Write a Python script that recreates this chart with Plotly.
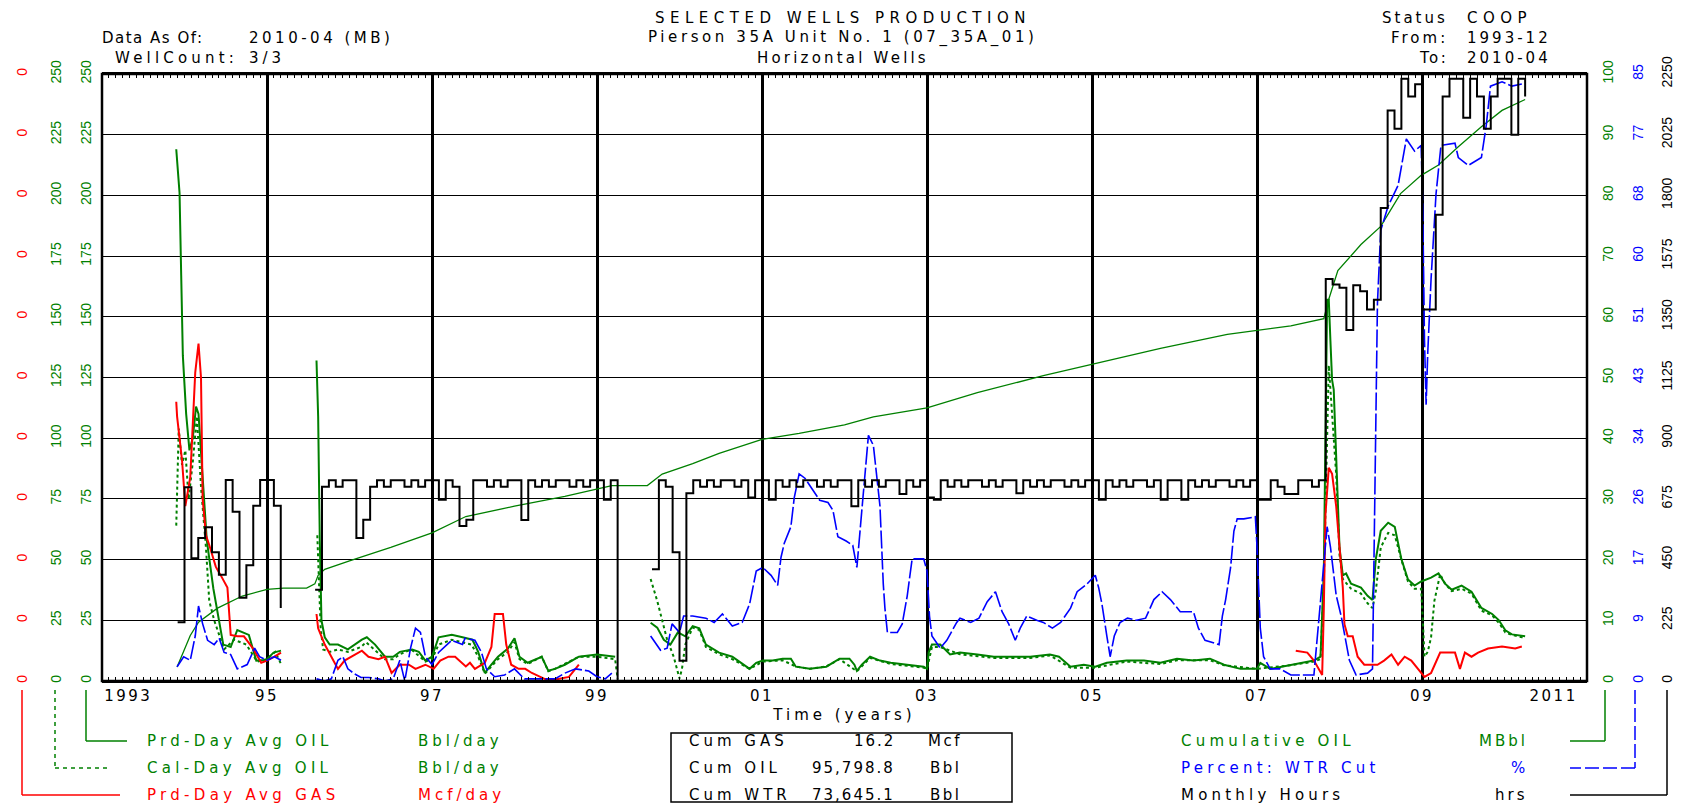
import plotly.graph_objects as go

# the page adds an 8px body margin, so the figure is drawn 8px in from the corner
OFF = 8
W, H = 1684 - OFF, 804 - OFF
L, R, T, B = 102, 1587, 74, 681   # plot frame in page pixels


def px(x):
    return (x - OFF) / W


def py(y):
    return 1 - (y - OFF) / H


def months(year, month, n):
    return [year + (month - 1 + i) / 12 for i in range(n)]


GREEN, RED, BLUE = "#008000", "#ff0000", "#0000ff"

# ---------------- data ----------------
# Prd-Day Avg OIL, Bbl/day
prd_oil_t = [1993.90, 1993.94, 1993.96, 1993.98, 1994.02, 1994.06, 1994.10, 1994.14, 1994.17, 1994.21,
             1994.27, 1994.35, 1994.47, 1994.56, 1994.64, 1994.78, 1994.87, 1994.99, 1995.08, 1995.17, None,
             1995.60, 1995.62, 1995.64, 1995.66, 1995.70, 1995.76, 1995.86, 1995.98, 1996.15, 1996.21,
             1996.31, 1996.43, 1996.53, 1996.61, 1996.76, 1996.84, 1996.92, 1997.00, 1997.08, 1997.24,
             1997.37, 1997.49, 1997.56, 1997.64, 1997.72, 1997.80, 1997.92, 1998.00, 1998.06, 1998.16,
             1998.33, 1998.41, 1998.49, 1998.61, 1998.78, 1999.00, 1999.22, None,
             1999.65, 1999.73, 1999.81, 1999.89, 1999.98, 2000.07, 2000.16, 2000.24, 2000.32, 2000.48,
             2000.64, 2000.85, 2000.93, 2001.01, 2001.13, 2001.25, 2001.35, 2001.41, 2001.58, 2001.78,
             2001.94, 2002.06, 2002.12, 2002.15, 2002.21, 2002.31, 2002.43, 2002.56, 2002.76, 2002.96,
             2003.00, 2003.02, 2003.06, 2003.16, 2003.28, 2003.40, 2003.61, 2003.81, 2004.01, 2004.25,
             2004.49, 2004.60, 2004.74, 2004.90, 2005.04, 2005.18, 2005.42, 2005.63, 2005.83, 2006.03,
             2006.23, 2006.43, 2006.60, 2006.80, 2007.00, 2007.04, 2007.16, 2007.41, 2007.69, 2007.77,
             2007.81, 2007.85, 2007.87, 2007.89, 2007.91, 2007.93, 2007.96, 2007.98, 2008.00, 2008.04,
             2008.08, 2008.14, 2008.26, 2008.34, 2008.40, 2008.44, 2008.50, 2008.59, 2008.67, 2008.75,
             2008.83, 2008.91, 2008.99, 2009.11, 2009.20, 2009.28, 2009.36, 2009.48, 2009.60, 2009.72,
             2009.85, 2009.93, 2010.01, 2010.09, 2010.21, 2010.25]
prd_oil_v = [219, 201, 167, 134, 110, 95, 100, 113, 110, 88,
             58, 38, 15, 14, 21, 19, 8.4, 8.7, 11.7, 12.5, None,
             132, 109, 58, 25, 18, 15, 15, 13, 17, 18,
             15, 10, 10, 12, 13, 12, 8.4, 10, 18, 19,
             18, 17, 12, 3.3, 6.7, 10, 13.4, 17.6, 10, 7.5,
             10, 4.2, 5, 6.7, 10, 10.9, 10, None,
             24, 22, 17, 15, 20, 18.4, 22.6, 21.7, 15, 11.7,
             10, 5, 7.5, 8.4, 8.4, 9.2, 9.2, 5.9, 5, 5.9,
             9.2, 9.2, 6.7, 4.2, 6.7, 10, 8.4, 7.5, 6.7, 5.9,
             5, 11.7, 15, 15, 10.9, 11.7, 10.9, 10, 10, 10,
             10.9, 10, 5.9, 6.7, 5.9, 7.5, 8.4, 8.4, 7.5, 9.2,
             8.4, 9.2, 6.7, 5, 5, 7.5, 5, 6.7, 8.4, 10,
             45, 157, 157, 140, 124, 120, 92, 72, 55, 43.5,
             44.3, 40.1, 38.5, 35.1, 33.4, 50.2, 61.9, 65.2, 63.5, 50.2,
             41.8, 39.3, 41, 42.6, 44.3, 40.1, 37.6, 39.3, 36.8, 30.1,
             27.6, 25.1, 20.9, 19.2, 18.4, 18.4]

# Cal-Day Avg OIL, Bbl/day
cal_oil_t = [1993.90, 1993.93, 1993.97, 1994.01, 1994.05, 1994.10, 1994.15, 1994.20, 1994.26, 1994.30,
             1994.36, 1994.48, 1994.60, 1994.75, 1994.88, 1995.00, 1995.10, 1995.17, None,
             1995.61, 1995.63, 1995.65, 1995.68, 1995.76, 1995.86, 1995.98, 1996.14, 1996.20, 1996.30,
             1996.43, 1996.53, 1996.61, 1996.75, 1996.92, 1997.00, 1997.08, 1997.24, 1997.36, 1997.48,
             1997.56, 1997.64, 1997.72, 1997.80, 1997.92, 1998.00, 1998.06, 1998.16, 1998.33, 1998.41,
             1998.49, 1998.61, 1998.78, 1999.00, 1999.22, 1999.25, None,
             1999.65, 1999.73, 1999.79, 1999.85, 1999.93, 2000.00, 2000.03, 2000.07, 2000.16, 2000.24,
             2000.32, 2000.48, 2000.64, 2000.85, 2001.01, 2001.25, 2001.41, 2001.58, 2001.78, 2001.94,
             2002.15, 2002.31, 2002.56, 2002.96, 2003.00, 2003.06, 2003.16, 2003.40, 2003.81, 2004.25,
             2004.49, 2004.74, 2005.04, 2005.42, 2005.83, 2006.03, 2006.43, 2006.60, 2007.00, 2007.41,
             2007.69, 2007.77, 2007.81, 2007.85, 2007.87, 2007.91, 2007.96, 2008.00, 2008.04, 2008.14,
             2008.26, 2008.34, 2008.40, 2008.44, 2008.50, 2008.59, 2008.67, 2008.75, 2008.83, 2008.91,
             2008.99, 2009.01, 2009.03, 2009.07, 2009.11, 2009.15, 2009.22, 2009.28, 2009.36, 2009.48,
             2009.60, 2009.72, 2009.85, 2009.93, 2010.01, 2010.09, 2010.21, 2010.25]
cal_oil_v = [64, 104, 89, 95, 75, 90, 109, 80, 55, 33,
             25, 13, 17, 15, 8, 9, 12, 7, None,
             60, 42, 22, 13, 12, 13, 12, 14, 16, 13,
             9, 9, 11, 13, 8, 9, 15, 17, 16, 15,
             10, 3, 6, 9, 12, 16, 9, 7, 10, 4,
             5, 7, 10, 10, 9, 1, None,
             42, 33, 25, 17, 10, 1, 5, 15, 22, 21,
             14, 11, 9, 5, 8, 8.5, 6, 5, 6, 9,
             4, 9.5, 7, 5.5, 5, 14, 14, 11, 9.5, 9.5,
             10.5, 5.5, 5.5, 8, 7, 8.5, 8.5, 6.5, 5, 6.5,
             8, 9, 40, 100, 130, 110, 85, 52, 42, 38,
             36, 32, 30, 37, 55, 61, 60, 50, 41, 38,
             38, 25, 10, 12, 18, 33, 44, 40, 37, 38,
             36, 29, 27, 24, 20, 19, 18, 18]

# Prd-Day Avg GAS, Mcf/day
gas_t = [1993.90, 1993.91, 1993.97, 1994.01, 1994.07, 1994.11, 1994.13, 1994.17, 1994.20, 1994.22,
         1994.26, 1994.30, 1994.38, 1994.44, 1994.52, 1994.56, 1994.64, 1994.72, 1994.83, 1994.93,
         1995.00, 1995.09, 1995.17, None,
         1995.60, 1995.62, 1995.70, 1995.78, 1995.86, 1995.94, 1996.02, 1996.15, 1996.23, 1996.35,
         1996.43, 1996.51, 1996.61, 1996.72, 1996.80, 1996.92, 1997.02, 1997.10, 1997.20, 1997.28,
         1997.41, 1997.46, 1997.52, 1997.64, 1997.72, 1997.76, 1997.86, 1997.90, 1997.96, 1998.05,
         1998.13, 1998.21, 1998.37, 1998.53, 1998.66, 1998.78, None,
         2007.47, 2007.61, 2007.69, 2007.79, 2007.81, 2007.83, 2007.87, 2007.91, 2007.96, 2008.00,
         2008.04, 2008.06, 2008.10, 2008.16, 2008.22, 2008.30, 2008.46, 2008.54, 2008.63, 2008.71,
         2008.79, 2008.87, 2008.95, 2009.03, 2009.11, 2009.22, 2009.32, 2009.40, 2009.46, 2009.52,
         2009.60, 2009.68, 2009.80, 2009.97, 2010.13, 2010.21]
gas_v = [0.115, 0.109, 0.091, 0.072, 0.084, 0.109, 0.127, 0.139, 0.125, 0.075,
         0.060, 0.056, 0.047, 0.0435, 0.0385, 0.019, 0.0184, 0.0184, 0.0134, 0.0075,
         0.0084, 0.010, 0.0117, None,
         0.0276, 0.0217, 0.015, 0.010, 0.005, 0.0084, 0.010, 0.0125, 0.010, 0.009,
         0.010, 0.0033, 0.0067, 0.0067, 0.005, 0.0067, 0.005, 0.0084, 0.010, 0.010,
         0.006, 0.0075, 0.005, 0.0075, 0.014, 0.0276, 0.0276, 0.015, 0.0067, 0.005,
         0.005, 0.0033, 0.0008, 0.0008, 0.0017, 0.0067, None,
         0.0125, 0.0117, 0.0084, 0.0025, 0.030, 0.0686, 0.0878, 0.0853, 0.0719, 0.0535,
         0.0385, 0.0234, 0.0184, 0.0184, 0.010, 0.0067, 0.0067, 0.0084, 0.0109, 0.0067,
         0.010, 0.0084, 0.005, 0.0017, 0.0033, 0.0117, 0.0117, 0.0117, 0.005, 0.0117,
         0.010, 0.0117, 0.0134, 0.0142, 0.0134, 0.0142]

# Cumulative OIL, MBbl
cum_oil_t = [1993.91, 1993.99, 1994.07, 1994.17, 1994.40, 1994.70, 1995.00, 1995.20, 1995.48, 1995.58,
             1995.62, 1995.70, 1996.00, 1996.50, 1997.00, 1997.41, 1998.00, 1998.61, 1999.18, 1999.61,
             1999.79, 2000.16, 2000.48, 2001.00, 2001.45, 2002.00, 2002.35, 2003.00, 2003.61, 2004.41,
             2005.00, 2005.83, 2006.64, 2007.00, 2007.41, 2007.81, 2007.87, 2007.98, 2008.26, 2008.50,
             2008.74, 2008.99, 2009.20, 2009.44, 2009.72, 2009.97, 2010.25]
cum_oil_v = [2.3, 5.0, 7.5, 9.7, 12.0, 14.0, 15.1, 15.3, 15.3, 16.0,
             17.4, 18.4, 19.8, 22.0, 24.4, 27.1, 28.8, 30.4, 32.2, 32.2,
             34.1, 35.8, 37.5, 39.8, 40.8, 42.2, 43.5, 45.0, 47.5, 50.3,
             52.2, 54.8, 57.1, 57.7, 58.5, 59.7, 62.9, 67.6, 71.9, 74.9,
             80.3, 83.3, 85.0, 88.0, 91.3, 94.0, 95.8]

# Percent WTR Cut, %
wtr_t = [1993.91, 1993.99, 1994.07, 1994.13, 1994.17, 1994.22, 1994.28, 1994.36, 1994.42, 1994.48,
         1994.56, 1994.64, 1994.76, 1994.85, 1994.91, 1995.00, 1995.09, 1995.17, None,
         1995.60, 1995.70, 1995.78, 1995.86, 1995.92, 1995.98, 1996.06, 1996.14, 1996.23, 1996.35,
         1996.43, 1996.53, 1996.61, 1996.67, 1996.74, 1996.80, 1996.86, 1996.92, 1997.00, 1997.08,
         1997.24, 1997.37, 1997.40, 1997.52, 1997.60, 1997.66, 1997.76, 1997.88, 1998.00, 1998.12,
         1998.33, 1998.49, 1998.61, 1998.74, 1998.90, 1999.00, 1999.10, 1999.18, None,
         1999.65, 1999.77, 1999.85, 1999.91, 2000.00, 2000.05, 2000.16, 2000.32, 2000.42, 2000.52,
         2000.64, 2000.76, 2000.85, 2000.93, 2001.01, 2001.11, 2001.19, 2001.23, 2001.27, 2001.35,
         2001.39, 2001.45, 2001.52, 2001.62, 2001.70, 2001.80, 2001.86, 2001.92, 2002.02, 2002.10,
         2002.15, 2002.21, 2002.25, 2002.29, 2002.35, 2002.39, 2002.43, 2002.47, 2002.49, 2002.52,
         2002.64, 2002.70, 2002.76, 2002.82, 2002.96, 2003.00, 2003.03, 2003.06, 2003.16, 2003.24,
         2003.36, 2003.40, 2003.53, 2003.63, 2003.73, 2003.83, 2003.91, 2003.99, 2004.07, 2004.13,
         2004.21, 2004.33, 2004.41, 2004.52, 2004.62, 2004.74, 2004.82, 2004.94, 2005.04, 2005.08,
         2005.12, 2005.18, 2005.22, 2005.27, 2005.34, 2005.43, 2005.54, 2005.65, 2005.75, 2005.85,
         2005.95, 2006.07, 2006.23, 2006.29, 2006.37, 2006.54, 2006.58, 2006.62, 2006.68, 2006.72,
         2006.76, 2006.84, 2006.98, 2007.00, 2007.02, 2007.04, 2007.08, 2007.16, 2007.28, 2007.41,
         2007.69, 2007.85, 2007.89, 2007.93, 2007.96, 2008.02, 2008.06, 2008.12, 2008.20, 2008.34,
         2008.40, 2008.42, 2008.44, 2008.46, 2008.50, 2008.59, 2008.71, 2008.77, 2008.81, 2008.91,
         2008.99, 2009.01, 2009.03, 2009.05, 2009.07, 2009.11, 2009.13, 2009.17, 2009.23, 2009.40,
         2009.44, 2009.56, 2009.72, 2009.78, 2009.83, 2009.97, 2010.09, 2010.21]
wtr_v = [2.0, 3.4, 2.9, 6.3, 10.5, 8.0, 5.7, 5.1, 6.0, 4.0,
         3.7, 1.7, 2.3, 4.6, 3.4, 2.9, 3.4, 2.9, None,
         0.3, 0.0, 0.3, 2.9, 3.4, 1.7, 1.0, 0.5, 0.5, 0.3,
         0.0, 0.3, 2.9, 0.0, 4.6, 7.4, 6.8, 3.4, 2.3, 4.0,
         5.7, 5.1, 6.0, 5.7, 4.0, 1.7, 0.6, 0.85, 1.7, 0.3,
         0.3, 0.3, 1.1, 1.7, 1.4, 0.6, 0.3, 1.1, None,
         6.3, 4.3, 4.6, 8.0, 6.8, 9.1, 9.1, 8.8, 8.2, 9.4,
         7.7, 8.2, 10.8, 15.4, 15.9, 14.8, 13.4, 17.3, 19.3, 21.6,
         25.6, 29.0, 28.4, 26.7, 25.3, 25.0, 23.9, 20.2, 19.6, 19.0,
         15.9, 23.9, 29.6, 34.4, 33.0, 29.0, 24.5, 13.6, 10.2, 6.8,
         6.8, 8.0, 11.9, 17.1, 17.1, 15.4, 9.1, 6.3, 4.6, 5.7,
         8.2, 8.8, 8.2, 8.8, 11.1, 12.5, 9.7, 8.0, 5.7, 7.4,
         9.1, 8.5, 8.2, 7.4, 8.2, 10.2, 12.5, 13.6, 14.8, 13.1,
         10.8, 6.3, 3.4, 6.3, 8.2, 8.8, 8.5, 8.8, 11.4, 12.5,
         11.4, 9.7, 9.7, 7.4, 5.7, 5.1, 9.1, 11.4, 15.9, 21.0,
         22.7, 22.7, 23.0, 18.8, 13.1, 7.4, 3.4, 1.7, 1.7, 0.85,
         0.85, 21.6, 18.8, 14.5, 12.0, 9.1, 6.8, 2.9, 0.85, 1.1,
         1.7, 18.8, 40.4, 52.9, 63.1, 66.5, 69.4, 73.3, 75.9, 74.2,
         75.0, 65.4, 47.8, 38.7, 46.0, 56.3, 60.3, 68.2, 75.0, 75.3,
         73.3, 72.2, 73.3, 77.9, 83.3, 83.9, 83.3, 83.6]

# Monthly Hours, hrs (one value per month)
hrs_a = [218, 718, 455, 530, 570, 477, 394, 745, 627, 309, 429, 650, 745, 745, 650, 271]   # 1993-12 ..
hrs_b = [338, 720, 744, 720, 744,                                                          # 1995-08 ..
         744, 530, 598, 720, 744, 720, 744, 744, 720, 744, 720, 744,
         744, 672, 744, 720, 575, 598, 744, 744, 720, 744, 720, 744,
         744, 597, 744, 720, 744, 720, 744, 744, 720, 744, 720, 744,
         744, 672, 744, 0]
hrs_c = [414, 744, 720, 477,                                                               # 1999-09 ..
         75, 696, 744, 720, 744, 720, 744, 744, 720, 744, 680, 744,
         744, 672, 744, 720, 744, 720, 744, 744, 720, 744, 720, 744,
         744, 648, 744, 720, 744, 720, 744, 744, 693, 744, 720, 744,
         680, 672, 744, 720, 744, 720, 744, 744, 720, 744, 720, 744,
         744, 696, 744, 720, 744, 720, 744, 744, 720, 744, 720, 744,
         744, 672, 744, 720, 744, 720, 744, 744, 720, 744, 672, 744,
         744, 672, 744, 720, 744, 720, 744, 744, 720, 744, 720, 744,
         672, 672, 744, 720, 693, 693, 744, 744, 720, 744, 1490, 1470,
         1458, 1301, 1467, 1445, 1377, 1413, 1753, 2115, 2047, 2232, 2167, 2212,
         1377, 1377, 1728, 2167, 2232, 2232, 2088, 2232, 2167, 2047, 2167, 2232,
         2232, 2025, 2232, 2167]
hrs_t = months(1993, 12, len(hrs_a)) + [None] + months(1995, 8, len(hrs_b)) + [None] + months(1999, 9, len(hrs_c))
hrs_v = hrs_a + [None] + hrs_b + [None] + hrs_c

# axis ticks
SPX = "<span style='letter-spacing:2.5px'>{}</span>"
year_ticks = [1993, 1995, 1997, 1999, 2001, 2003, 2005, 2007, 2009, 2011]
year_text = ["\u00a0" * 11 + SPX.format("1993"), SPX.format("95"), SPX.format("97"), SPX.format("99"),
             SPX.format("01"), SPX.format("03"), SPX.format("05"), SPX.format("07"), SPX.format("09"),
             SPX.format("2011") + "\u00a0" * 14]
wtr_ticks = [0, 8.5, 17, 25.5, 34, 42.5, 51, 59.5, 68, 76.5, 85]
wtr_text = ["0", "9", "17", "26", "34", "43", "51", "60", "68", "77", "85"]

# ---------------- figure ----------------
fig = go.Figure()
fig.add_trace(go.Scatter(x=hrs_t, y=hrs_v, yaxis="y6", mode="lines", line_shape="hv",
                         line=dict(color="black", width=2)))
fig.add_trace(go.Scatter(x=cum_oil_t, y=cum_oil_v, yaxis="y4", mode="lines",
                         line=dict(color=GREEN, width=1.3)))
fig.add_trace(go.Scatter(x=wtr_t, y=wtr_v, yaxis="y5", mode="lines",
                         line=dict(color=BLUE, width=1.6, dash="18px,3px")))
fig.add_trace(go.Scatter(x=gas_t, y=gas_v, yaxis="y3", mode="lines",
                         line=dict(color=RED, width=2)))
fig.add_trace(go.Scatter(x=cal_oil_t, y=cal_oil_v, yaxis="y2", mode="lines",
                         line=dict(color=GREEN, width=2, dash="3px,3px")))
fig.add_trace(go.Scatter(x=prd_oil_t, y=prd_oil_v, yaxis="y", mode="lines",
                         line=dict(color=GREEN, width=2)))

TICKFONT = dict(family="Liberation Sans, sans-serif", size=14)
dom = [py(B), py(T)]


def yax(color, pos, side, **kw):
    d = dict(domain=dom, anchor="free", position=pos, side=side, tickangle=-90,
             showgrid=False, zeroline=False, showline=False, ticks="",
             tickfont=dict(TICKFONT, color=color), automargin=False, fixedrange=True)
    d.update(kw)
    return d


fig.update_layout(
    width=W, height=H, template="none",
    margin=dict(l=0, r=0, t=0, b=0),
    paper_bgcolor="white", plot_bgcolor="white", showlegend=False,
    font=dict(family="DejaVu Sans, sans-serif", color="black", size=15),
    xaxis=dict(domain=[px(L), px(R)], range=[1993, 2011], tickmode="array",
               tickvals=year_ticks, ticktext=year_text, ticks="",
               showgrid=True, gridcolor="black", gridwidth=2.5, zeroline=False,
               showline=True, linecolor="black", linewidth=2, mirror="allticks",
               tickfont=dict(family="DejaVu Sans, sans-serif", size=15, color="black"),
               minor=dict(tickmode="linear", tick0=1993, dtick=1 / 12, ticks="inside",
                          ticklen=4, tickcolor="black", showgrid=False),
               title=dict(text="<span style='letter-spacing:4px'>Time (years)</span>", standoff=5,
                          font=dict(family="DejaVu Sans, sans-serif", size=15)),
               automargin=False, fixedrange=True),
    yaxis=yax(GREEN, px(94), "left", range=[0, 250], dtick=25,
              showgrid=True, gridcolor="black", gridwidth=1.3),
    yaxis2=yax(GREEN, px(64), "left", overlaying="y", range=[0, 250], dtick=25),
    yaxis3=yax(RED, px(30), "left", overlaying="y", range=[0, 0.25], dtick=0.025, tickformat=".0f"),
    yaxis4=yax(GREEN, px(1598), "right", overlaying="y", range=[0, 100], dtick=10),
    yaxis5=yax(BLUE, px(1628), "right", overlaying="y", range=[0, 85], tickmode="array",
               tickvals=wtr_ticks, ticktext=wtr_text),
    yaxis6=yax("black", px(1657), "right", overlaying="y", range=[0, 2250], dtick=225),
)

# plot frame
shapes = [dict(type="rect", xref="paper", yref="paper", x0=px(L), x1=px(R), y0=py(B), y1=py(T),
               line=dict(color="black", width=2.5))]


def seg(pts, color, dash="solid", width=1.5):
    for (x0, y0), (x1, y1) in zip(pts[:-1], pts[1:]):
        shapes.append(dict(type="line", xref="paper", yref="paper",
                           x0=px(x0), y0=py(y0), x1=px(x1), y1=py(y1),
                           line=dict(color=color, width=width, dash=dash)))


ROWS = [741, 768, 795]
# legend connectors from the axes
seg([(86, 690), (86, ROWS[0]), (127, ROWS[0])], GREEN)
seg([(55, 690), (55, ROWS[1]), (111, ROWS[1])], GREEN, dash="4px,4px")
seg([(22, 690), (22, ROWS[2]), (120, ROWS[2])], RED)
seg([(1605, 690), (1605, ROWS[0]), (1570, ROWS[0])], GREEN)
seg([(1635, 690), (1635, ROWS[1]), (1570, ROWS[1])], BLUE, dash="14px,4px")
seg([(1667, 690), (1667, ROWS[2]), (1570, ROWS[2])], "black")
# cumulative box
shapes.append(dict(type="rect", xref="paper", yref="paper", x0=px(671), x1=px(1012),
                   y0=py(802), y1=py(733), line=dict(color="black", width=1.5)))
fig.update_layout(shapes=shapes)

ann = []


def txt(x, y, s, color="black", anchor="left", ls=4, size=15):
    ann.append(dict(x=px(x), y=py(y), xref="paper", yref="paper",
                    text="<span style='letter-spacing:{}px'>{}</span>".format(ls, s),
                    showarrow=False, xanchor=anchor, yanchor="middle",
                    font=dict(family="DejaVu Sans, sans-serif", size=size, color=color)))


# header
txt(843, 18, "SELECTED WELLS PRODUCTION", anchor="center", ls=5.5)
txt(843, 38, "Pierson 35A Unit No. 1 (07_35A_01)", anchor="center", ls=3.6)
txt(843, 58, "Horizontal Wells", anchor="center", ls=3.2)
txt(100, 38, "Data As Of:", ls=1.5)
txt(247, 38, "2010-04 (MB)", ls=3.5)
txt(113, 58, "WellCount:", ls=4.2)
txt(247, 58, "3/3", ls=4)
txt(1450, 18, "Status", anchor="right", ls=3)
txt(1465, 18, "COOP", ls=5.5)
txt(1450, 38, "From:", anchor="right", ls=3)
txt(1465, 38, "1993-12", ls=3)
txt(1450, 58, "To:", anchor="right", ls=2.5)
txt(1465, 58, "2010-04", ls=3)

# bottom legend
left_names = ["Prd-Day Avg OIL", "Cal-Day Avg OIL", "Prd-Day Avg GAS"]
left_units = ["Bbl/day", "Bbl/day", "Mcf/day"]
left_cols = [GREEN, GREEN, RED]
for r, n, u, c in zip(ROWS, left_names, left_units, left_cols):
    txt(145, r, n, c, ls=4.3)
    txt(416, r, u, c, ls=4)
right_names = ["Cumulative OIL", "Percent: WTR Cut", "Monthly Hours"]
right_units = ["MBbl", "%", "hrs"]
right_cols = [GREEN, BLUE, "black"]
for r, n, u, c in zip(ROWS, right_names, right_units, right_cols):
    txt(1179, r, n, c, ls=4.2)
    txt(1530, r, u, c, anchor="right", ls=3)

cum_names = ["Cum GAS", "Cum OIL", "Cum WTR"]
cum_values = ["16.2", "95,798.8", "73,645.1"]
cum_units = ["Mcf", "Bbl", "Bbl"]
for r, n, v, u in zip(ROWS, cum_names, cum_values, cum_units):
    txt(687, r, n, ls=4)
    txt(897, r, v, anchor="right", ls=2)
    txt(945, r, u, anchor="center", ls=2.5)

fig.update_layout(annotations=ann)
fig.write_html("out.html")
